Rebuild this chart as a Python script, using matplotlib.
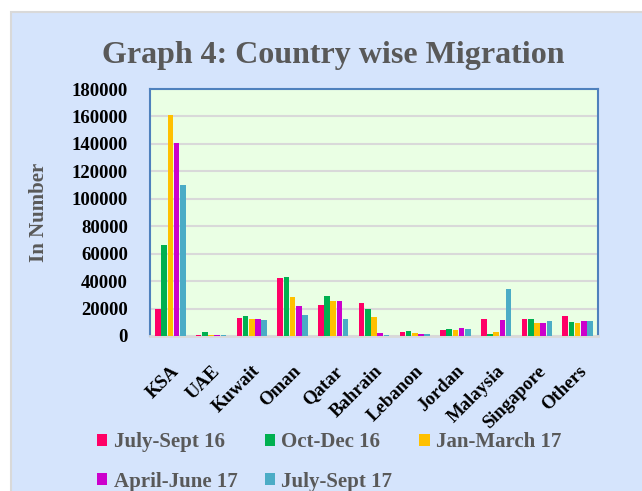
import numpy as np
import matplotlib
matplotlib.use("Agg")
import matplotlib.pyplot as plt
from matplotlib.patches import Rectangle

# data
countries = ['KSA', 'UAE', 'Kuwait', 'Oman', 'Qatar', 'Bahrain', 'Lebanon',
             'Jordan', 'Malaysia', 'Singapore', 'Others']
july_sept_16 = [20000, 1000, 13000, 42300, 22600, 24100, 2900, 4400, 12500, 12500, 14700]
oct_dec_16 = [66400, 3000, 14600, 43000, 29200, 19700, 3700, 5100, 1500, 12500, 10300]
jan_march_17 = [161200, 700, 12400, 28500, 25500, 13900, 2200, 4400, 2900, 9500, 9500]
april_june_17 = [140800, 1000, 12400, 21900, 25500, 2200, 1500, 5900, 11700, 9500, 11000]
july_sept_17 = [110100, 1000, 11700, 15300, 12400, 700, 1500, 5100, 34400, 11000, 11000]

series_names = ['July-Sept 16', 'Oct-Dec 16', 'Jan-March 17', 'April-June 17', 'July-Sept 17']
series = [july_sept_16, oct_dec_16, jan_march_17, april_june_17, july_sept_17]
colors = ['#FF0066', '#00B050', '#FFC000', '#CC00CC', '#4BACC6']
yticks = [0, 20000, 40000, 60000, 80000, 100000, 120000, 140000, 160000, 180000]

plt.rcParams['font.family'] = ['Liberation Serif', 'DejaVu Serif']
plt.rcParams['font.weight'] = 'bold'

W, H = 642, 491
fig = plt.figure(figsize=(W / 100, H / 100), dpi=100)
fig.patch.set_facecolor('white')

# outer chart box (behind everything)
fig.patches.append(Rectangle((11 / W, -0.01), 1 - 11 / W + 0.01, 1 - 12 / H + 0.01,
                             transform=fig.transFigure, facecolor='#D5E4FC',
                             edgecolor='#D9D9D9', linewidth=1.5, zorder=-10))

ax = fig.add_axes([150 / W, 1 - 336 / H, 448 / W, 247 / H])
ax.set_facecolor('#EAFFE4')

x = np.arange(len(countries))
pitch = 0.152
width = 0.137
bars = []
for i, (name, vals) in enumerate(zip(series_names, series)):
    b = ax.bar(x + (i - 2) * pitch, vals, width, color=colors[i], label=name, zorder=3)
    bars.append(b)

ax.set_xlim(-0.5, len(countries) - 0.5)
ax.set_ylim(0, 180000)
ax.set_yticks(yticks)
ax.set_yticklabels([str(v) for v in yticks], fontsize=13.5, fontweight='bold')
ax.yaxis.grid(True, color='#D9D9D9', linewidth=1.5, zorder=1)
ax.set_axisbelow(True)
ax.tick_params(axis='both', length=0)
ax.tick_params(axis='y', pad=16)

ax.set_xticks(x)
ax.set_xticklabels(countries, fontsize=13.5, fontweight='bold', rotation=45,
                   ha='right', va='top', rotation_mode='anchor')
ax.tick_params(axis='x', pad=19)

for side in ['left', 'right', 'top']:
    ax.spines[side].set_color('#4F81BD')
    ax.spines[side].set_linewidth(1.5)
ax.spines['bottom'].set_color('#D9D9D9')
ax.spines['bottom'].set_linewidth(2)

ax.set_ylabel('In Number', fontsize=15, fontweight='bold', color='#595959')
ax.yaxis.set_label_coords((49 - 150) / 448, 0.5)

fig.text(333 / W, 1 - 55 / H, 'Graph 4: Country wise Migration', fontsize=23,
         fontweight='bold', color='#595959', ha='center', va='center')

# legend in row order: 3 on first row, 2 on second
order = [0, 3, 1, 4, 2]
fig.legend([bars[i] for i in order], [series_names[i] for i in order],
           ncol=3, loc='upper left', bbox_to_anchor=(97 / W, 1 - 432 / H),
           frameon=False, labelcolor='#595959',
           handlelength=0.5, handleheight=0.5, handletextpad=0.3,
           columnspacing=1.3, labelspacing=0.95, borderpad=0, borderaxespad=0,
           prop={'weight': 'bold', 'size': 15})

fig.savefig('out.png', dpi=100)
